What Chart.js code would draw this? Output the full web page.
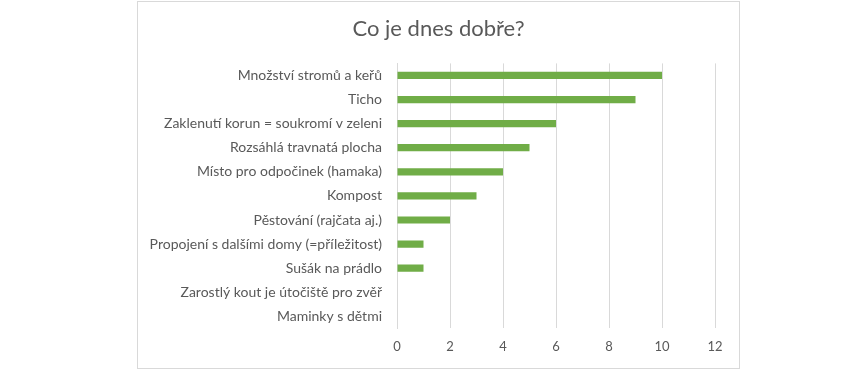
<!DOCTYPE html>
<html>
<head>
<meta charset="utf-8">
<script src="https://cdn.jsdelivr.net/npm/chart.js@4"></script>
<style>
  body { margin: 0; background: #fff; }
  #box {
    position: absolute; left: 137px; top: 1px;
    width: 601px; height: 366px;
    border: 1px solid #d9d9d9;
  }
</style>
</head>
<body>
<div id="box"><canvas id="chart"></canvas></div>
<script>
// Data
const categories = [
  'Množství stromů a keřů',
  'Ticho',
  'Zaklenutí korun = soukromí v zeleni',
  'Rozsáhlá travnatá plocha',
  'Místo pro odpočinek (hamaka)',
  'Kompost',
  'Pěstování (rajčata aj.)',
  'Propojení s dalšími domy (=příležitost)',
  'Sušák na prádlo',
  'Zarostlý kout je útočiště pro zvěř',
  'Maminky s dětmi'
];
const counts = [10, 9, 6, 5, 4, 3, 2, 1, 1, 0, 0];
const xTicks = [0, 2, 4, 6, 8, 10, 12];

const font = "Lato, 'Open Sans', sans-serif";

// keep the title centred on the whole box, not on the padded area
const centerTitle = {
  id: 'centerTitle',
  afterLayout(chart) {
    if (chart.titleBlock) chart.titleBlock.right += 24;
  }
};

new Chart(document.getElementById('chart'), {
  type: 'bar',
  data: {
    labels: categories,
    datasets: [{
      data: counts,
      backgroundColor: '#70AD47',
      borderWidth: 0,
      barPercentage: 0.3,
      categoryPercentage: 1
    }]
  },
  options: {
    indexAxis: 'y',
    responsive: true,
    maintainAspectRatio: false,
    animation: false,
    layout: { padding: { left: 0, right: 24, top: 0, bottom: 2 } },
    plugins: {
      legend: { display: false },
      tooltip: { enabled: false },
      title: {
        display: true,
        text: 'Co je dnes dobře?',
        color: '#595959',
        font: { family: font, size: 22, weight: 'normal' },
        padding: { top: 14, bottom: 21 }
      }
    },
    scales: {
      x: {
        min: 0,
        max: 12,
        afterBuildTicks: s => { s.ticks = xTicks.map(v => ({ value: v })); },
        grid: { color: '#d9d9d9', drawTicks: false },
        border: { display: false },
        ticks: { color: '#595959', font: { family: font, size: 13 }, padding: 11 }
      },
      y: {
        grid: { display: false },
        border: { display: true, color: '#d9d9d9' },
        ticks: { color: '#595959', font: { family: font, size: 14 }, padding: 7, autoSkip: false },
        afterFit: s => { s.width = 259; }
      }
    }
  },
  plugins: [centerTitle]
});
</script>
</body>
</html>
